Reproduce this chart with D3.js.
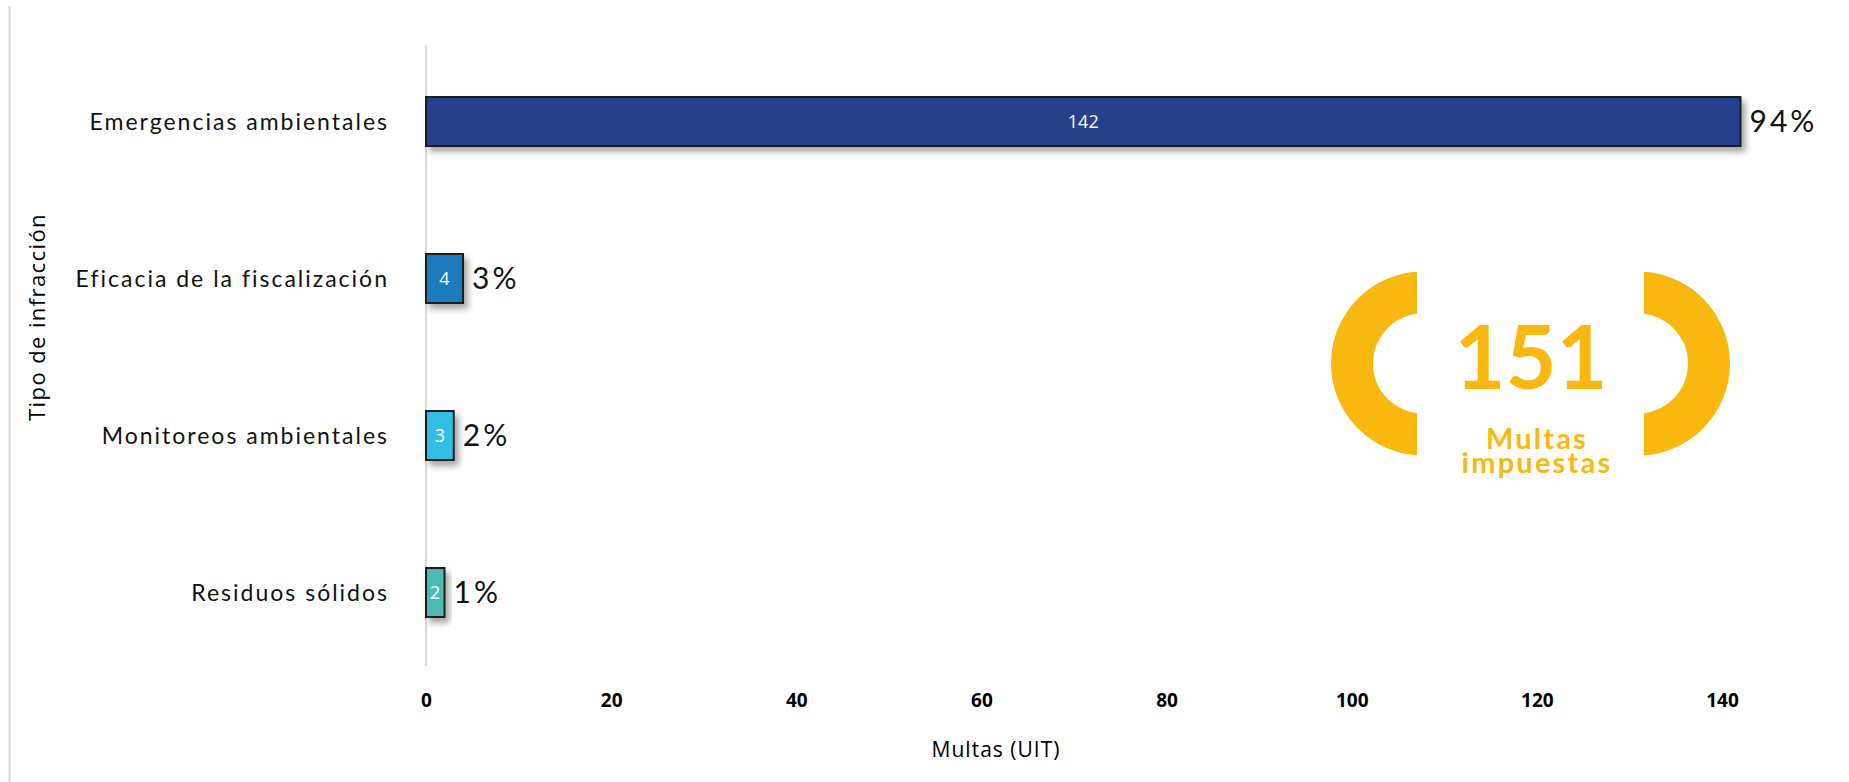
<!DOCTYPE html>
<html><head><meta charset="utf-8">
<script src="https://cdn.jsdelivr.net/npm/d3@7"></script>
<style>body{margin:0;background:#fff;overflow:hidden}</style>
</head><body>
<svg id="chart" width="1849" height="782"></svg>
<script>
const categories = ["Emergencias ambientales","Eficacia de la fiscalización","Monitoreos ambientales","Residuos sólidos"];
const values = [142, 4, 3, 2];
const percentLabels = ["94%", "3%", "2%", "1%"];
const barColors = ["#27408b", "#1b7bbf", "#31bde3", "#4dbab2"];
const xTicks = [0, 20, 40, 60, 80, 100, 120, 140];
const totalFines = 151;
const badgeLines = ["Multas", "impuestas"];
const xTitle = "Multas (UIT)";
const yTitle = "Tipo de infracción";

const svg = d3.select("#chart");
const yellow = "#f9b80f";

const defs = svg.append("defs");
const f = defs.append("filter").attr("id","shadow").attr("x","-20%").attr("y","-40%").attr("width","160%").attr("height","200%");
f.append("feDropShadow").attr("dx",4).attr("dy",5).attr("stdDeviation",3).attr("flood-color","#000").attr("flood-opacity",0.35);

// outer left border
svg.append("line").attr("x1",9.5).attr("x2",9.5).attr("y1",6).attr("y2",782)
  .attr("stroke","#d9d9d9").attr("stroke-width",2);

const x = d3.scaleLinear().domain([0,140]).range([426,1722]);
const y = d3.scaleBand().domain(categories).range([43,671]).paddingInner(0.688).paddingOuter(0.344);

// zero line
svg.append("line").attr("x1",x(0)).attr("x2",x(0)).attr("y1",45).attr("y2",666)
  .attr("stroke","#d9d9d9").attr("stroke-width",2);

// x axis
const xAxis = svg.append("g").attr("transform","translate(0,680)")
  .call(d3.axisBottom(x).tickValues(xTicks).tickSize(0).tickPadding(14).tickFormat(d3.format("d")));
xAxis.select(".domain").remove();
xAxis.selectAll("text").attr("font-family","'Open Sans', sans-serif").attr("font-weight","bold")
  .attr("font-size",19).attr("fill","#000");

// x title
svg.append("text").attr("x",996).attr("y",757).attr("text-anchor","middle")
  .attr("font-family","'Open Sans', sans-serif").attr("font-size",21).attr("letter-spacing",1)
  .attr("fill","#000").text(xTitle);

// y title
svg.append("text").attr("transform","translate(45,317) rotate(-90)").attr("text-anchor","middle")
  .attr("font-family","'Open Sans', sans-serif").attr("font-size",22).attr("letter-spacing",1.4)
  .attr("fill","#000").text(yTitle);

const data = categories.map((c,i)=>({c, v:values[i], p:percentLabels[i], col:barColors[i]}));

// bars
svg.append("g").selectAll("rect").data(data).join("rect")
  .attr("x", x(0)).attr("y", d=>y(d.c))
  .attr("width", d=>x(d.v)-x(0)).attr("height", y.bandwidth())
  .attr("fill", d=>d.col).attr("stroke","#1e1e1e").attr("stroke-width",2)
  .attr("filter","url(#shadow)");

// category labels
svg.append("g").selectAll("text").data(data).join("text")
  .attr("x", 389).attr("y", d=>y(d.c)+y.bandwidth()/2).attr("dy","0.35em")
  .attr("text-anchor","end").attr("font-family","Lato, sans-serif").attr("font-size",23)
  .attr("letter-spacing",2).attr("fill","#111").text(d=>d.c);

// value labels
svg.append("g").selectAll("text").data(data).join("text")
  .attr("x", d=>(x(0)+x(d.v))/2).attr("y", d=>y(d.c)+y.bandwidth()/2).attr("dy","0.36em")
  .attr("text-anchor","middle").attr("font-family","'Open Sans', sans-serif").attr("font-size",18)
  .attr("fill","#fff").text(d=>d.v);

// percent labels
svg.append("g").selectAll("text").data(data).join("text")
  .attr("x", d=>x(d.v)+9).attr("y", d=>y(d.c)+y.bandwidth()/2).attr("dy","0.36em")
  .attr("font-family","Lato, sans-serif").attr("font-size",30).attr("letter-spacing",3)
  .attr("fill","#111").text(d=>d.p);

// badge
const cy = 363.5, rIn = 50, rOut = 92;
const leftC = 1423, rightC = 1638, leftEdge = 1417, rightEdge = 1644;
defs.append("clipPath").attr("id","clipL").append("rect").attr("x",1300).attr("y",200).attr("width",leftEdge-1300).attr("height",300);
defs.append("clipPath").attr("id","clipR").append("rect").attr("x",rightEdge).attr("y",200).attr("width",150).attr("height",300);
const ring = d3.arc().innerRadius(rIn).outerRadius(rOut).startAngle(0).endAngle(2*Math.PI);
svg.append("g").attr("clip-path","url(#clipL)").append("path")
  .attr("transform",`translate(${leftC},${cy})`).attr("d",ring()).attr("fill",yellow);
svg.append("g").attr("clip-path","url(#clipR)").append("path")
  .attr("transform",`translate(${rightC},${cy})`).attr("d",ring()).attr("fill",yellow);

svg.append("text").attr("x",1531).attr("y",389).attr("text-anchor","middle")
  .attr("font-family","Lato, sans-serif").attr("font-weight",700).attr("font-size",88)
  .attr("fill",yellow).text(totalFines);
const badgeText = svg.append("text").attr("text-anchor","middle")
  .attr("font-family","Lato, sans-serif").attr("font-weight",700).attr("font-size",29)
  .attr("letter-spacing",2.2).attr("fill",yellow);
badgeText.selectAll("tspan").data(badgeLines).join("tspan")
  .attr("x",1537).attr("y",(d,i)=>449+i*24).text(d=>d);
</script>
</body></html>
